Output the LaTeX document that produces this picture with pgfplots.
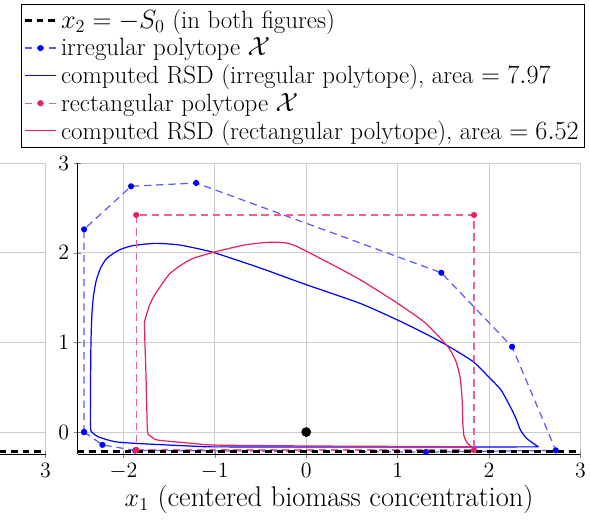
\documentclass[border=0pt]{standalone}
\usepackage{pgfplots}
\pgfplotsset{compat=1.18}
\definecolor{pinkC}{RGB}{233,30,99}
\definecolor{blueC}{RGB}{0,0,255}
\begin{document}
\begin{tikzpicture}
\useasboundingbox (0,0) rectangle (388.2pt,344.1pt);
\clip (0,0) rectangle (388.2pt,344.1pt);
\pgfplotsset{
  myax/.style={
    scale only axis, width=330.8pt, height=191.6pt,
    xmin=-2.5, xmax=3, ymin=-0.25, ymax=3,
    axis x line=bottom, axis y line=left,
    axis line style={-, line width=0.6pt},
    xtick={-2,...,3}, ytick={0,1,2,3},
    grid=major, major grid style={gray!40, line width=0.6pt},
    tick label style={font=\fontsize{14.5}{17}\selectfont},
    xlabel={$x_1$ (centered biomass concentration)},
    xlabel style={font=\fontsize{18.7}{22}\selectfont, yshift=3pt},
    anchor=south west,
  },
  blackS/.style={black, line width=2pt, dash pattern=on 4.4pt off 3.3pt},
}
% left (second) panel, mostly outside the picture
\begin{axis}[myax, at={(-300.8pt,45.07pt)}]
\addplot[blackS] coordinates {(-2.5,-0.22) (3,-0.22)};
\end{axis}
% main panel
\begin{axis}[myax, at={(51.13pt,45.07pt)},
  legend cell align=left,
  legend image code/.code={\draw[mark repeat=2,mark phase=2,#1] plot coordinates {(0cm,0cm) (0.36cm,0cm) (0.72cm,0cm)};},
  legend style={font=\fontsize{16.4}{18}\selectfont, at={(1.009,1.054)}, anchor=south east,
    draw=black, line width=0.6pt, inner sep=1.5pt,
    nodes={inner sep=2.3pt}},
]
\addlegendimage{blackS}
\addlegendentry{$x_2=-S_0$ (in both figures)}
% irregular polytope
\addplot[blueC!65, line width=0.8pt, dash pattern=on 4.8pt off 3.2pt, mark=*, mark size=1.6pt,
  mark options={solid, blueC, fill=blueC}] coordinates {
(-2.43,0) (-2.23,-0.143) (-1.87,-0.205) (1.31,-0.223) (2.73,-0.204) (2.252,0.952)
(1.478,1.778) (-1.204,2.78) (-1.916,2.743) (-2.43,2.263) (-2.43,0)};
\addlegendentry{irregular polytope $\mathcal{X}$}
% RSD irregular
\addplot[blueC, line width=0.8pt, smooth, tension=0.4] coordinates {
(-1.08,-0.165) (-1.8,-0.13) (-2.09,-0.108) (-2.27,-0.055) (-2.335,-0.01) (-2.36,0.05)
(-2.36,0.5) (-2.355,1.0) (-2.345,1.3) (-2.33,1.5) (-2.30,1.68) (-2.25,1.83)
(-2.18,1.94) (-2.05,2.03) (-1.9,2.08) (-1.653,2.106) (-1.4,2.09) (-1.2,2.05) (-1.0,2.0)
(-0.5,1.83) (0,1.645) (0.59,1.436) (1.0,1.25) (1.3,1.1) (1.536,0.97) (1.828,0.784)
(2.01,0.6) (2.13,0.47) (2.232,0.283) (2.296,0.15) (2.34,0.03) (2.41,-0.07) (2.54,-0.165)};
\addlegendentry{computed RSD (irregular polytope), area $=7.97$}
\addplot[blueC, line width=0.8pt, forget plot] coordinates {
(2.54,-0.165) (2.0,-0.166) (1.0,-0.167) (0,-0.167) (-1.08,-0.165)};
% rectangular polytope
\addplot[pinkC!70, line width=0.8pt, dash pattern=on 4.8pt off 3.2pt, mark=*, mark size=1.6pt,
  mark options={solid, pinkC, fill=pinkC}] coordinates {
(-1.86,-0.2) (1.836,-0.2) (1.836,2.423) (-1.86,2.423) (-1.86,-0.2)};
\addlegendentry{rectangular polytope $\mathcal{X}$}
% RSD rectangular
\addplot[pinkC, line width=0.8pt, smooth, tension=0.4] coordinates {
(-1.77,1.23) (-1.72,1.40) (-1.67,1.51) (-1.58,1.65) (-1.49,1.77) (-1.36,1.87) (-1.234,1.94)
(-1.0,2.01) (-0.68,2.087) (-0.43,2.117) (-0.3,2.118) (-0.2,2.106) (-0.12,2.08) (-0.04,2.04)
(0.226,1.90) (0.59,1.70) (1.0,1.436) (1.3,1.22) (1.536,0.97) (1.60,0.87) (1.646,0.765)
(1.682,0.616) (1.70,0.45) (1.708,0.3) (1.713,0.1) (1.725,-0.04) (1.76,-0.12) (1.81,-0.164)};
\addlegendentry{computed RSD (rectangular polytope), area $=6.52$}
\addplot[pinkC, line width=0.8pt, smooth, tension=0.4, forget plot] coordinates {
(1.81,-0.164) (1.0,-0.16) (0,-0.155) (-1.0,-0.145) (-1.26,-0.125) (-1.62,-0.09) (-1.69,-0.055)
(-1.735,0.0) (-1.745,0.3) (-1.755,0.7) (-1.765,1.0) (-1.77,1.23)};
\addplot[blackS, forget plot] coordinates {(-2.5,-0.22) (3,-0.22)};
\addplot[only marks, mark=*, mark size=3pt, black, forget plot] coordinates {(0,0)};
\end{axis}
\end{tikzpicture}
\end{document}
